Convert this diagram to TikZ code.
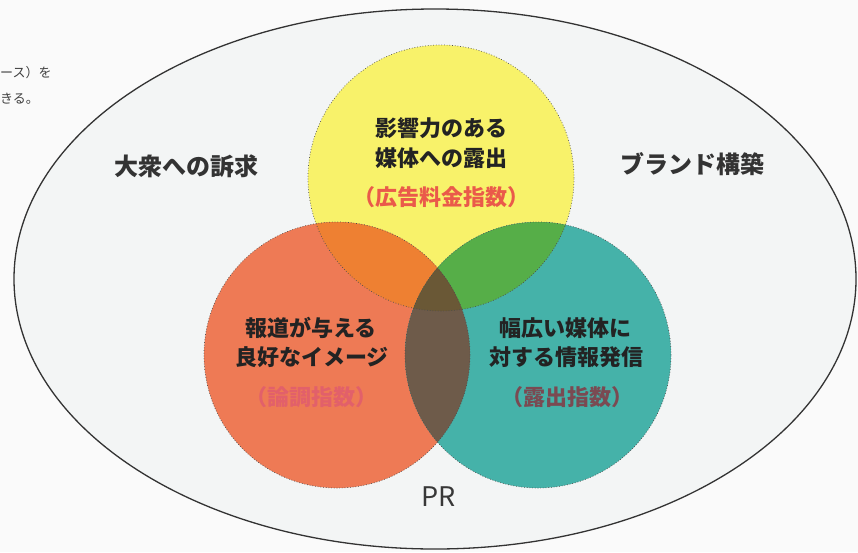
\documentclass[tikz,border=0pt]{standalone}
\usepackage{fontspec}
\newfontfamily\jp{Noto Sans CJK JP}
\definecolor{bgout}{HTML}{FAFAFA}
\definecolor{bgin}{HTML}{F3F5F5}
\definecolor{ycol}{HTML}{F8F26A}
\definecolor{rcol}{HTML}{EE7A55}
\definecolor{tcol}{HTML}{45B2A9}
\definecolor{yrcol}{HTML}{EE8032}
\definecolor{ytcol}{HTML}{56AE48}
\definecolor{rtcol}{HTML}{6E5B4A}
\definecolor{allcol}{HTML}{6A5836}
\definecolor{subred}{HTML}{EA5A4A}
\definecolor{subpink}{HTML}{E2606A}
\definecolor{submaroon}{HTML}{7A4A52}
\definecolor{inkcol}{HTML}{232323}
\tikzset{
  outline/.style={draw=black!80, line width=1.3pt},
  dotline/.style={draw=black!70, line width=0.7pt, dotted},
  jtext/.style={font=\jp\bfseries\fontsize{22}{26}\selectfont, text=inkcol, inner sep=0pt},
  jbig/.style={font=\jp\bfseries\fontsize{24}{28}\selectfont, text=black!80, inner sep=0pt},
  jsmall/.style={font=\jp\fontsize{13}{16}\selectfont, text=black!75, inner sep=0pt, anchor=west}
}
\begin{document}
\begin{tikzpicture}[x=1pt,y=-1pt]
\useasboundingbox (0,0) rectangle (858,552);
\fill[bgout] (0,0) rectangle (858,552);
\coordinate (E) at (435,279);
\coordinate (Yc) at (441,178);
\coordinate (Rc) at (337,355);
\coordinate (Tc) at (538,355);
\fill[bgin] (E) ellipse [x radius=421pt, y radius=270pt];
% circles
\fill[ycol] (Yc) circle [radius=133pt];
\fill[rcol] (Rc) circle [radius=133pt];
\fill[tcol] (Tc) circle [radius=133pt];
\begin{scope}
  \clip (Yc) circle [radius=133pt];
  \fill[yrcol] (Rc) circle [radius=133pt];
  \fill[ytcol] (Tc) circle [radius=133pt];
\end{scope}
\begin{scope}
  \clip (Rc) circle [radius=133pt];
  \fill[rtcol] (Tc) circle [radius=133pt];
  \clip (Tc) circle [radius=133pt];
  \fill[allcol] (Yc) circle [radius=133pt];
\end{scope}
\draw[dotline] (Yc) circle [radius=133pt];
\draw[dotline] (Rc) circle [radius=133pt];
\draw[dotline] (Tc) circle [radius=133pt];
\draw[outline] (E) ellipse [x radius=421pt, y radius=270pt];
% texts
\node[jsmall] (s1) at (0,73) {ース）を};
\node[jsmall] (s2) at (0,99) {きる。};
\node[jbig] (left) at (186,166) {大衆への訴求};
\node[jbig] (right) at (692,164) {ブランド構築};
\node[jtext] (y1) at (441,128) {影響力のある};
\node[jtext] (y2) at (441,158) {媒体への露出};
\node[jtext, text=subred] (y3) at (441,197) {（広告料金指数）};
\node[jtext] (r1) at (311,328) {報道が与える};
\node[jtext] (r2) at (312,357) {良好なイメージ};
\node[jtext, text=subpink] (r3) at (311,397) {（論調指数）};
\node[jtext] (t1) at (565,328) {幅広い媒体に};
\node[jtext] (t2) at (566,357) {対する情報発信};
\node[jtext, text=submaroon] (t3) at (567,397) {（露出指数）};
\node[font=\jp\fontsize{27}{30}\selectfont, text=black!78, inner sep=0pt] (pr) at (439,497) {PR};
\end{tikzpicture}
\end{document}
